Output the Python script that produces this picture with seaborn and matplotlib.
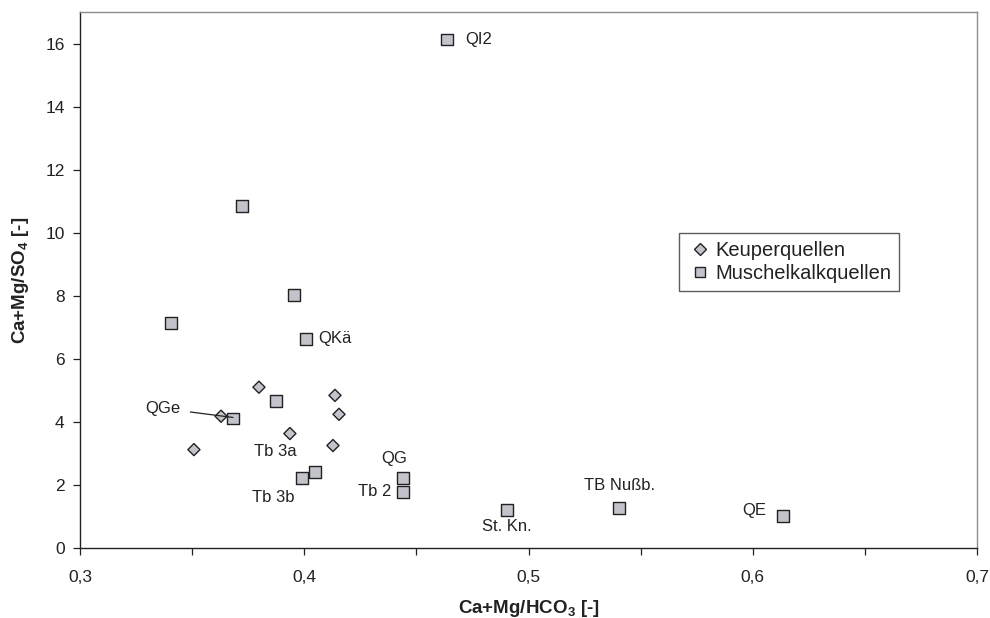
import matplotlib
matplotlib.use("Agg")
import matplotlib.pyplot as plt
import seaborn as sns
import pandas as pd
from matplotlib.ticker import MultipleLocator, FuncFormatter
from matplotlib.lines import Line2D

# Keuper springs
keuper_x = [0.3798, 0.3629, 0.3508, 0.3936, 0.4137, 0.4155, 0.4128]
keuper_y = [5.10, 4.18, 3.12, 3.63, 4.84, 4.24, 3.25]

# Muschelkalk springs
muschel_x = [0.4637, 0.3722, 0.3406, 0.3954, 0.4008, 0.3874, 0.3682,
             0.4048, 0.3990, 0.4440, 0.4440, 0.4904, 0.5404, 0.6135]
muschel_y = [16.13, 10.84, 7.14, 8.03, 6.63, 4.65, 4.11,
             2.42, 2.23, 2.23, 1.78, 1.21, 1.27, 1.02]

group_names = ["Keuperquellen", "Muschelkalkquellen"]

# Point annotations: text, point index in Muschelkalk series, text offset (points), alignment
labels = [
    ("QI2", 0, (13, 0), "left", "center"),
    ("QKä", 4, (9, 0), "left", "center"),
    ("QG", 9, (-6, 14), "center", "center"),
    ("Tb 2", 10, (-8, 0), "right", "center"),
    ("St. Kn.", 11, (0, -12), "center", "center"),
    ("TB Nußb.", 12, (0, 16), "center", "center"),
    ("QE", 13, (-12, 4), "right", "center"),
    ("Tb 3a", 8, (-19, 19), "center", "center"),
    ("Tb 3b", 8, (-21, -14), "center", "center"),
]

df = pd.DataFrame({
    "x": keuper_x + muschel_x,
    "y": keuper_y + muschel_y,
    "Gruppe": [group_names[0]] * len(keuper_x) + [group_names[1]] * len(muschel_x),
})

sns.set_style("white")
plt.rcParams["font.family"] = ["Liberation Sans", "DejaVu Sans"]
plt.rcParams["mathtext.fontset"] = "custom"
plt.rcParams["mathtext.rm"] = "Liberation Sans"
plt.rcParams["mathtext.bf"] = "Liberation Sans:bold"

ink = "#222222"
fill = "#c2c3cb"

fig = plt.figure(figsize=(9.9, 6.18), dpi=100)
ax = fig.add_axes([80 / 990, 1 - 548 / 618, (977 - 80) / 990, (548 - 12) / 618])

sns.scatterplot(data=df, x="x", y="y", hue="Gruppe", style="Gruppe",
                markers={group_names[0]: "D", group_names[1]: "s"},
                palette={group_names[0]: fill, group_names[1]: fill},
                size="Gruppe", sizes={group_names[0]: 38, group_names[1]: 72},
                edgecolor=ink, linewidth=1.0, ax=ax, legend=False, zorder=3)

for text, idx, off, ha, va in labels:
    ax.annotate(text, (muschel_x[idx], muschel_y[idx]), xytext=off,
                textcoords="offset points", ha=ha, va=va, fontsize=12, color=ink)

# QGe label with leader line
ax.annotate("QGe", xy=(muschel_x[6], muschel_y[6] + 0.03), xytext=(-38, 6.5),
            textcoords="offset points", ha="right", va="center", fontsize=12,
            color=ink,
            arrowprops=dict(arrowstyle="-", color=ink, lw=0.9,
                            shrinkA=5, shrinkB=0))

ax.set_xlim(0.3, 0.7)
ax.set_ylim(0, 17)
ax.xaxis.set_major_locator(MultipleLocator(0.1))
ax.xaxis.set_minor_locator(MultipleLocator(0.05))
ax.yaxis.set_major_locator(MultipleLocator(2))
ax.xaxis.set_major_formatter(FuncFormatter(lambda v, p: f"{v:.1f}".replace(".", ",")))
ax.tick_params(axis="both", which="both", direction="out", length=5, width=0.9,
               color=ink, labelsize=12.5, labelcolor=ink)
ax.tick_params(axis="x", which="major", pad=11)
ax.tick_params(axis="y", pad=6)
ax.tick_params(bottom=True, left=True)
ax.tick_params(axis="x", which="minor", bottom=True)

for side in ["left", "bottom"]:
    ax.spines[side].set_color(ink)
    ax.spines[side].set_linewidth(1.0)
for side in ["top", "right"]:
    ax.spines[side].set_color("#8c8c8c")
    ax.spines[side].set_linewidth(1.0)

ax.set_xlabel(r"Ca+Mg/HCO$_\mathbf{3}$ [-]", fontsize=13.5, fontweight="bold",
              labelpad=9, color=ink)
ax.set_ylabel(r"Ca+Mg/SO$_\mathbf{4}$ [-]", fontsize=13.5, fontweight="bold",
              labelpad=10, color=ink)

# Legend
handles = [
    Line2D([], [], marker="D", linestyle="none", markersize=6,
           markerfacecolor=fill, markeredgecolor=ink, markeredgewidth=1.0),
    Line2D([], [], marker="s", linestyle="none", markersize=7.5,
           markerfacecolor=fill, markeredgecolor=ink, markeredgewidth=1.0),
]
leg = ax.legend(handles, group_names, loc="upper left",
                bbox_to_anchor=((679 - 80) / 897, 1 - (233 - 12) / 536),
                frameon=True, fancybox=False, fontsize=14.5, handlelength=1.3,
                handletextpad=0.1, borderpad=0.4, labelspacing=0.2,
                borderaxespad=0)
leg.get_frame().set_edgecolor("#333333")
leg.get_frame().set_linewidth(1.0)
for t in leg.get_texts():
    t.set_color(ink)

fig.savefig("out.png", dpi=100)
